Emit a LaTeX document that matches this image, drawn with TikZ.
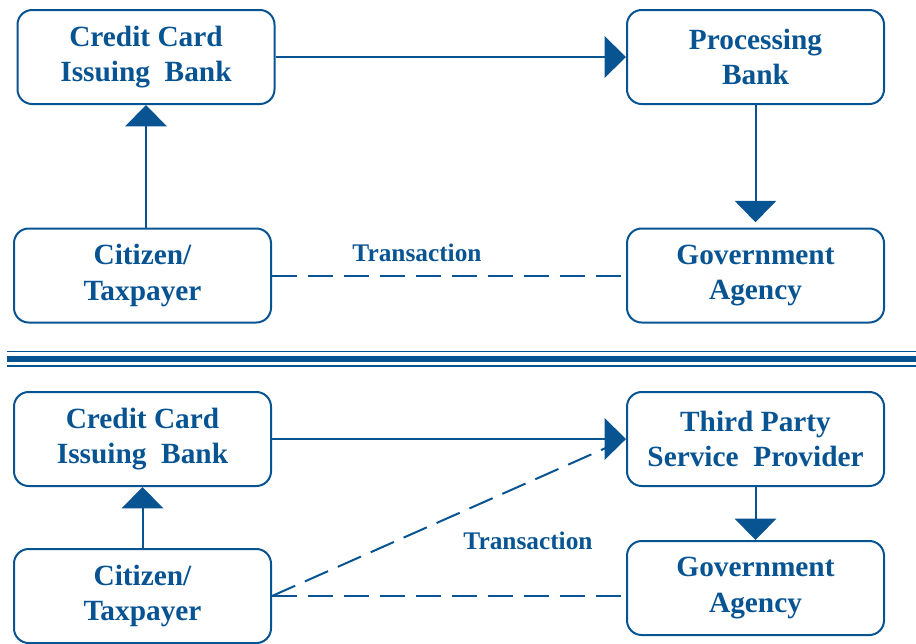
\documentclass[tikz,border=0pt]{standalone}
\usepackage{fontspec}
\setmainfont{Liberation Serif}
\usetikzlibrary{arrows.meta}
\definecolor{db}{RGB}{8,84,146}
\begin{document}
\begin{tikzpicture}[x=0.75pt,y=-0.75pt,
  box/.style={draw=db,line width=1.5pt,rounded corners=11pt,minimum width=257*0.75pt,minimum height=94*0.75pt,
    align=center,text=db,font=\fontsize{22}{26.5}\selectfont\bfseries,inner sep=0pt},
  conn/.style={draw=db,line width=1.5pt},
  arr/.style={conn,-{Triangle[length=16pt,width=31pt]}},
  dsh/.style={conn,dash pattern=on 19pt off 8pt},
  lab/.style={text=db,font=\fontsize{19}{22}\selectfont\bfseries}]
\useasboundingbox (0,0) rectangle (916,643);
% top diagram
\node[box] (cc1) at (146,57) {Credit Card\\Issuing\ \ Bank};
\node[box] (pb) at (755.5,57) {Processing\\Bank};
\node[box] (ct1) at (142.5,275.5) {Citizen/\\Taxpayer};
\node[box] (ga1) at (755.5,275.5) {Government\\Agency};
\draw[arr] (cc1.east) -- (pb.west);
\draw[arr] (ct1.north -| cc1.south) -- (cc1.south);
\draw[arr,shorten >=4pt] (pb.south) -- (ga1.north);
\draw[dsh] (ct1.east) -- (ga1.west);
\node[lab] (t1) at (417,253) {Transaction};
% separator
\draw[db,line width=1.2pt] (7,351.5) coordinate (s1) -- (916,351.5) coordinate (s2);
\draw[db,line width=4.5pt] (7,359) coordinate (s3) -- (916,359) coordinate (s4);
\draw[db,line width=1.2pt] (7,366) coordinate (s5) -- (916,366) coordinate (s6);
% bottom diagram
\node[box] (cc2) at (142.5,439) {Credit Card\\Issuing\ \ Bank};
\node[box] (tp) at (755.5,439) {Third Party\\Service\ \ Provider};
\node[box] (ct2) at (142.5,596) {Citizen/\\Taxpayer};
\node[box] (ga2) at (755.5,588) {Government\\Agency};
\draw[arr] (cc2.east) -- (tp.west);
\draw[arr] (ct2.north) -- (cc2.south);
\draw[arr] (tp.south) -- (ga2.north);
\draw[dsh] (ct2.east) -- (tp.west);
\draw[dsh] (ct2.east) -- (ct2.east -| ga2.west);
\node[lab] (t2) at (528,541) {Transaction};
\end{tikzpicture}
\end{document}
